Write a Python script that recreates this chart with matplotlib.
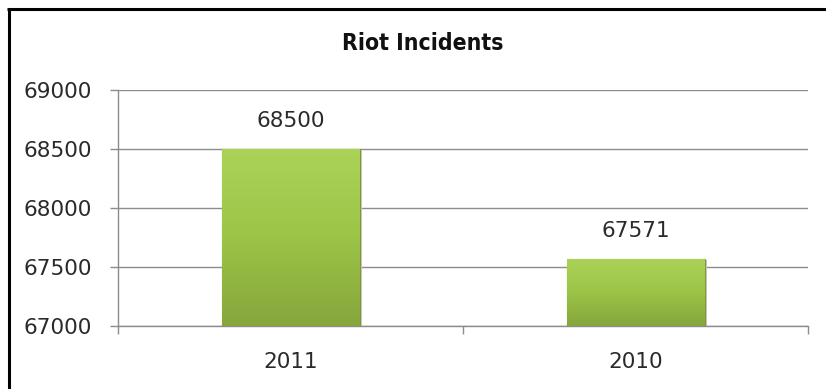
import numpy as np
import matplotlib
matplotlib.use("Agg")
import matplotlib.pyplot as plt
from matplotlib.colors import LinearSegmentedColormap
from matplotlib.lines import Line2D

categories = ["2011", "2010"]
incidents = [68500, 67571]
yticks = [67000, 67500, 68000, 68500, 69000]

W, H = 826, 389
fig = plt.figure(figsize=(W / 100, H / 100), dpi=100)
ax = fig.add_axes([118 / W, 1 - 326 / H, (808 - 118) / W, (326 - 90) / H])

x = np.arange(len(categories))
bars = ax.bar(x, [v - yticks[0] for v in incidents], bottom=yticks[0], width=0.4,
              color="#9cc447", edgecolor="#7d9a37", linewidth=0.8, zorder=3)

# vertical green gradient inside each bar (light on top)
green = LinearSegmentedColormap.from_list("g", ["#abd357", "#9cc447", "#86a63c"])
grad = np.linspace(0, 1, 256).reshape(-1, 1)
for b in bars:
    x0, y0 = b.get_x(), b.get_y()
    im = ax.imshow(grad, cmap=green, aspect="auto", zorder=3.5, origin="upper",
                   extent=[x0, x0 + b.get_width(), y0, y0 + b.get_height()])
    im.set_clip_path(b)
    # soft shadow on the right / bottom
    ax.bar(x0 + b.get_width() / 2 + 0.006, b.get_height(), bottom=y0 - 8,
           width=b.get_width(), color="#c8c8c8", zorder=2.5, linewidth=0)

for xi, v in zip(x, incidents):
    ax.text(xi, v + 150, str(v), ha="center", va="bottom", fontsize=15.5,
            color="#2a2a2a", zorder=5)

ax.set_xlim(-0.5, len(categories) - 0.5)
ax.set_ylim(yticks[0], yticks[-1])
ax.set_yticks(yticks)
ax.set_yticklabels([str(t) for t in yticks], fontsize=15.5, color="#2a2a2a")
ax.set_xticks(x)
ax.set_xticklabels(categories, fontsize=15.5, color="#2a2a2a")
ax.tick_params(axis="x", length=0, pad=19)
ax.tick_params(axis="y", length=6, color="#8c8c8c", width=1, pad=13)
ax.set_xticks([-0.5, 0.5, 1.5], minor=True)
ax.tick_params(axis="x", which="minor", length=6, color="#8c8c8c", width=1)

ax.yaxis.grid(True, color="#8c8c8c", linewidth=1, zorder=0)
ax.set_axisbelow(True)
for s in ["top", "right"]:
    ax.spines[s].set_visible(False)
for s in ["left", "bottom"]:
    ax.spines[s].set_color("#8c8c8c")
    ax.spines[s].set_linewidth(1)

fig.text(423 / W, 1 - 44 / H, "Riot Incidents", ha="center", va="center",
         fontsize=16.5, fontweight="bold", fontstretch="condensed",
         family=["DejaVu Sans"], color="#111111")

# outer frame, runs off the right and bottom edges
fig.add_artist(Line2D([8.5 / W, 8.5 / W], [0, 1 - 8.5 / H], color="black",
                      linewidth=2.2, solid_capstyle="butt", transform=fig.transFigure))
fig.add_artist(Line2D([7 / W, 1], [1 - 8.5 / H, 1 - 8.5 / H], color="black",
                      linewidth=2.2, solid_capstyle="butt", transform=fig.transFigure))

fig.savefig("out.png", dpi=100)
